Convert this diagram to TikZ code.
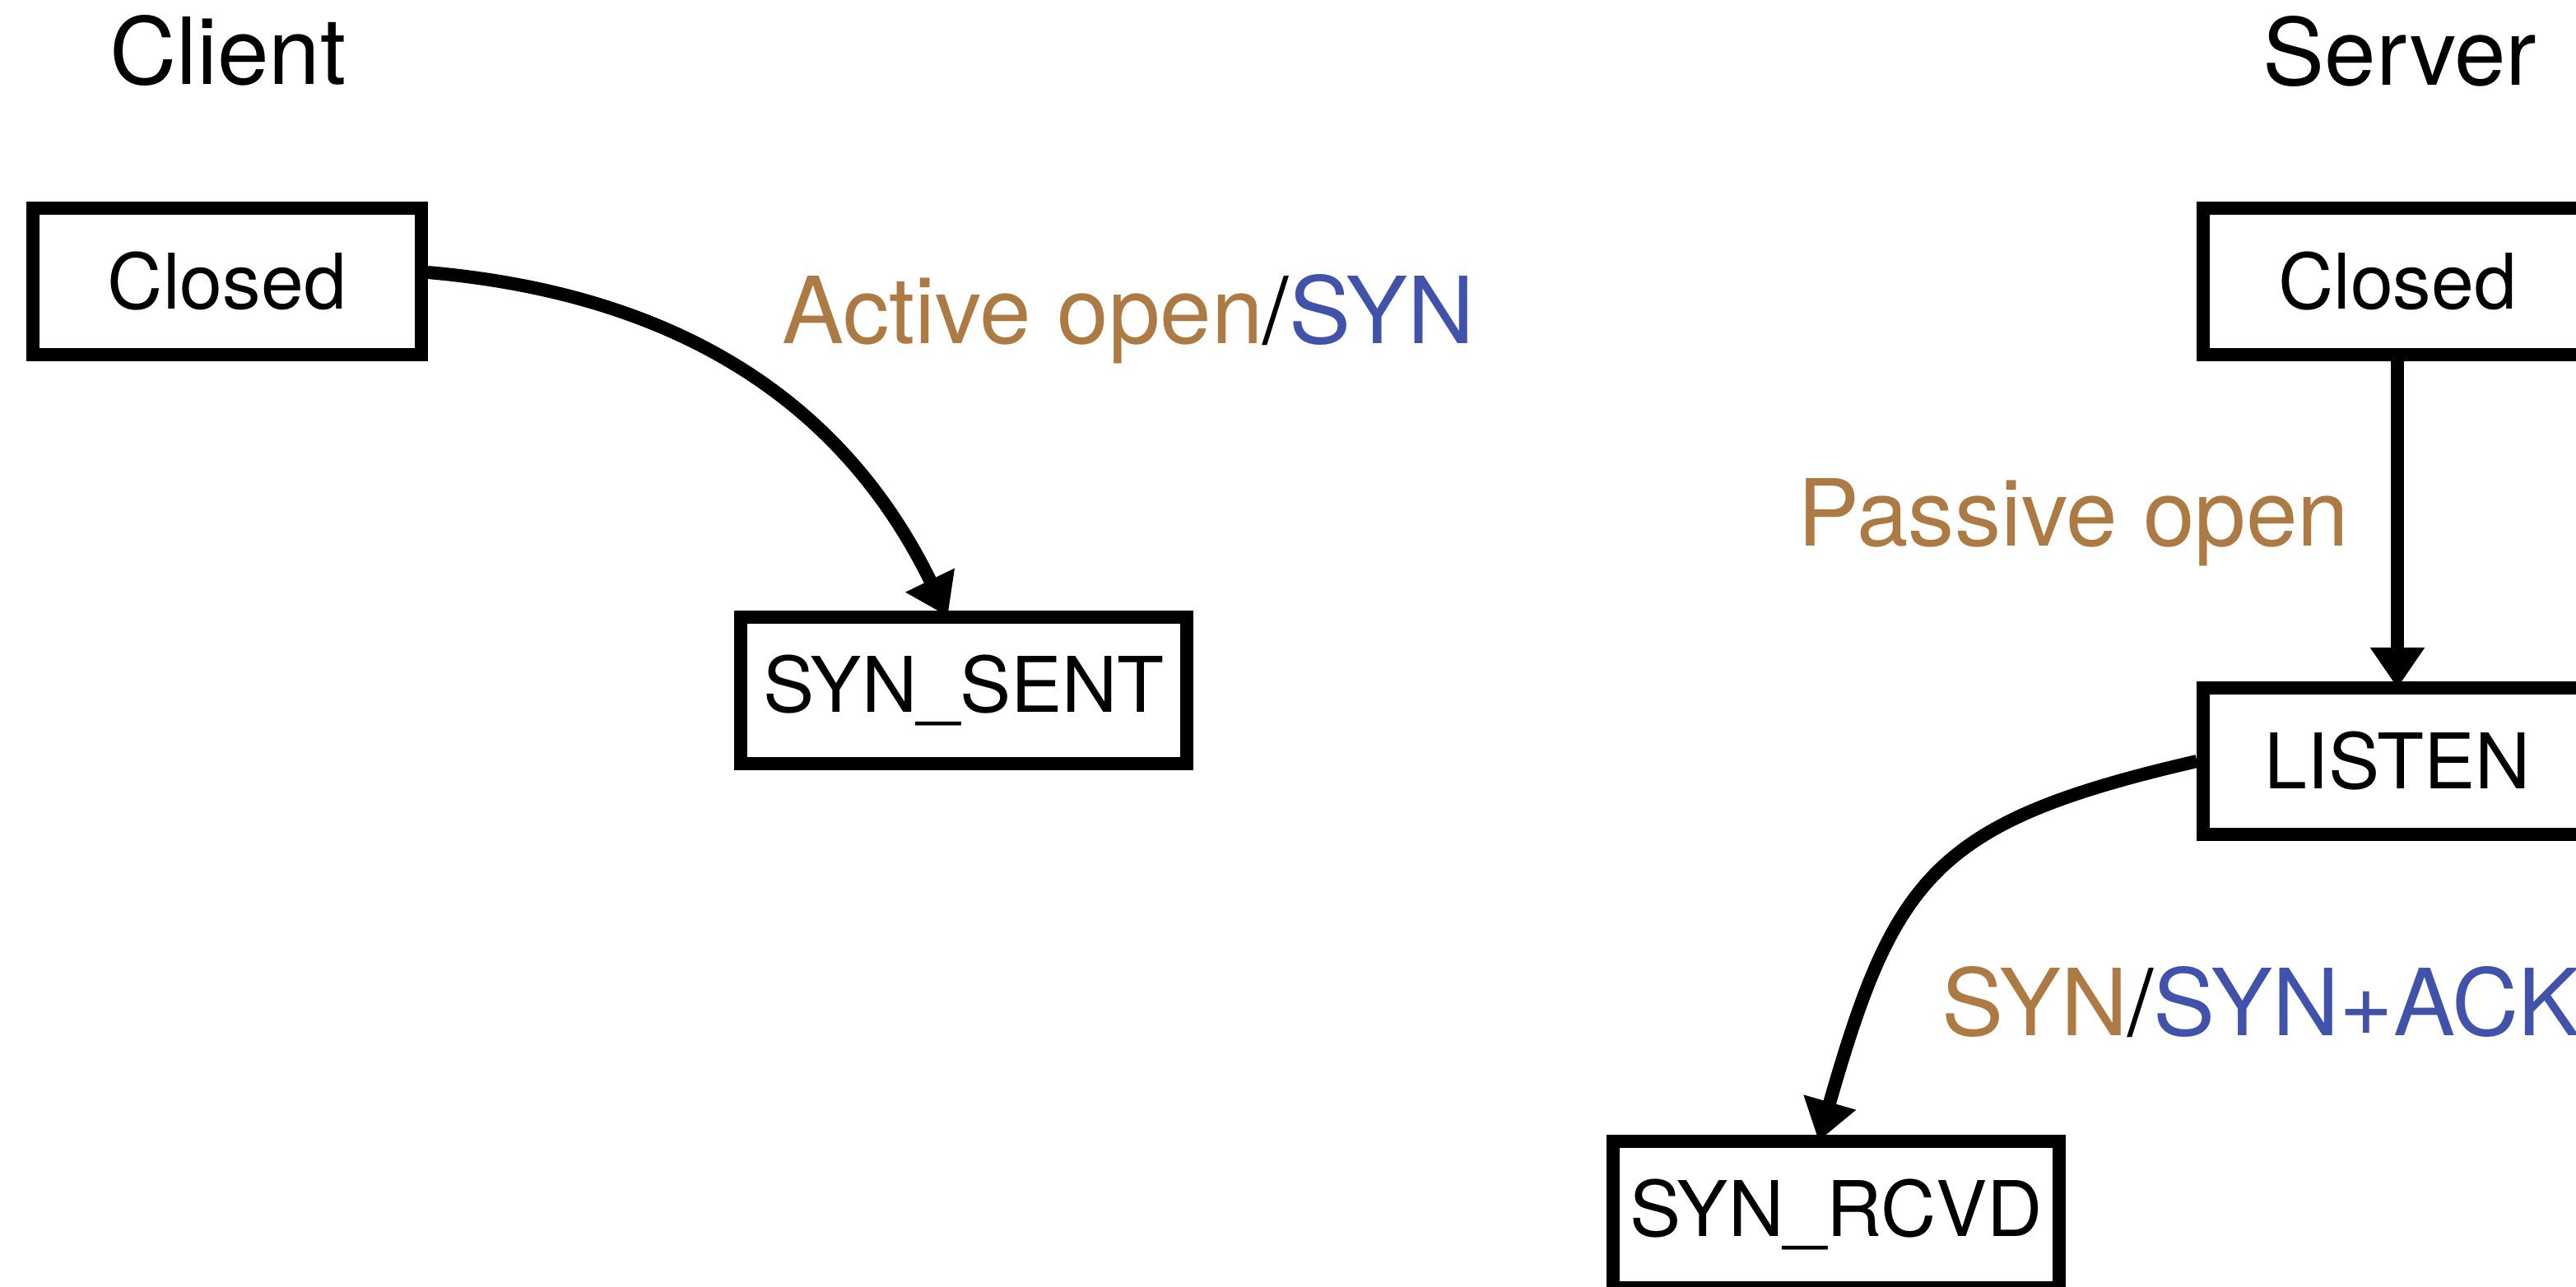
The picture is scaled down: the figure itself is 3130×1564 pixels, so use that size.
\documentclass[tikz,border=0pt]{standalone}
\usepackage{fontspec}
\setmainfont{TeX Gyre Heros}
\usetikzlibrary{arrows.meta}
\definecolor{evtbrown}{HTML}{AD7A44}
\definecolor{actblue}{HTML}{4152AB}

\tikzset{
  statebox/.style={draw, line width=0.16cm, minimum width=4.71cm, minimum height=1.78cm,
    inner sep=0pt, font=\fontsize{26.5}{30}\selectfont},
  widebox/.style={statebox, minimum width=5.42cm},
  trans/.style={line width=0.16cm, shorten >=-0.8mm, -{Triangle[length=0.49cm,width=0.63cm]}},
  sidetitle/.style={font=\fontsize{32}{36}\selectfont, anchor=base, inner sep=0pt},
  evlabel/.style={font=\fontsize{32}{36}\selectfont, inner sep=0pt},
}

\begin{document}
\begin{tikzpicture}[x=0.01cm, y=-0.01cm]
	\clip (0,0) rectangle (3130,1564);
	\useasboundingbox (0,0) rectangle (3130,1564);

	%CLIENT
	\node[sidetitle] (client) at (277,103) {Client};
	\node[statebox] (cclosed) at (276,342) {Closed};
	\node[widebox] (synsent) at (1171,839) {SYN\_SENT};
	\draw[trans] ([yshift=1.1mm]cclosed.east) to[out=-5,in=116] ([xshift=-2.3mm]synsent.north);
	\node[evlabel, anchor=base] (activelbl) at (1371,418)
		{\textcolor{evtbrown}{Active open}/\textcolor{actblue}{SYN}};

	%SERVER
	\node[sidetitle] (server) at (2916,104) {Server};
	\node[statebox] (sclosed) at (2913,342) {Closed};
	\node[statebox] (listen) at (2913,925) {LISTEN};
	\node[widebox] (synrcvd) at (2231,1476) {SYN\_RCVD};
	\draw[trans] (sclosed) -- (listen);
	\node[evlabel, anchor=base east] (passivelbl) at (2855,663)
		{\textcolor{evtbrown}{Passive open}};
	\draw[trans] (listen.west) to[out=193,in=74,looseness=1.3] ([xshift=-1.9mm]synrcvd.north);
	\node[evlabel, anchor=base west] (synacklbl) at (2359,1258)
		{\textcolor{evtbrown}{SYN}/\textcolor{actblue}{SYN+ACK}};
\end{tikzpicture}
\end{document}
